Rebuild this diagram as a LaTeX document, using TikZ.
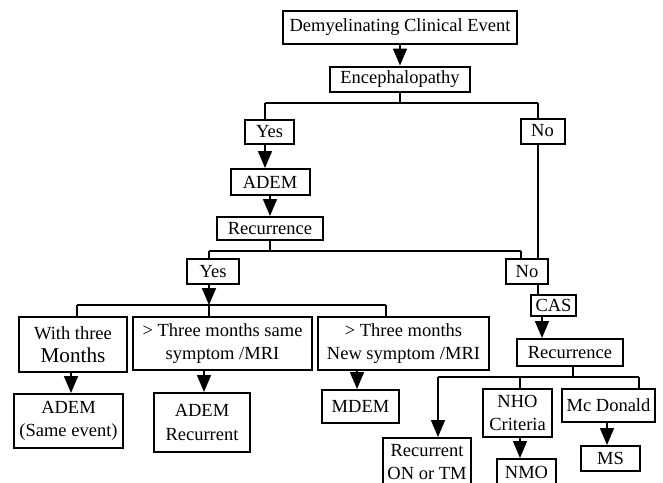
\documentclass[tikz,border=0pt]{standalone}
\usepackage{fontspec}
\setmainfont{Liberation Serif}
\usetikzlibrary{arrows.meta}

\tikzset{
  box/.style={draw, line width=1pt, inner sep=1pt, align=center,
    font=\fontsize{9.25pt}{11.75pt}\selectfont},
  link/.style={line width=0.8pt},
  arrow/.style={line width=0.8pt, -{Triangle[width=7pt,length=8.5pt]}}
}

\begin{document}
\begin{tikzpicture}[x=0.5pt, y=-0.5pt]
\useasboundingbox (0,0) rectangle (663,482);

\def\ya{103}
\def\yb{251}
\def\yc{305}
\def\yd{377}

\def\xa{265}
\def\xb{538}
\def\xc{209}
\def\xd{521}
\def\xe{77}
\def\xf{386}
\def\xg{71}
\def\xh{204}
\def\xj{357}
\def\xk{542}
\def\xl{573}
\def\xm{438}
\def\xn{520}
\def\xo{639}
\def\xp{607}

\node[box, minimum width=117pt, minimum height=16.5pt] (dce) at (400, 27.5) {Demyelinating Clinical Event};
\node[box, minimum width=70pt, minimum height=12.5pt] (enc) at (400, 79) {Encephalopathy};
\node[box, minimum width=24.5pt, minimum height=12pt] (yes1) at (269.5, 132) {Yes};
\node[box, minimum width=22pt, minimum height=12.5pt] (no1) at (542.5, 131) {No};
\node[box, minimum width=39.5pt, minimum height=13pt] (adem) at (270, 182) {ADEM};
\node[box, minimum width=53pt, minimum height=11.5pt] (rec1) at (270, 228.5) {Recurrence};
\node[box, minimum width=26pt, minimum height=12.5pt] (yes2) at (213, 271.5) {Yes};
\node[box, minimum width=21pt, minimum height=12.5pt] (no2) at (527, 271.5) {No};
\node[box, minimum width=22.5pt, minimum height=10.5pt, inner sep=0pt] (cas) at (553.5, 305.5) {CAS};
\node[box, minimum width=53pt, minimum height=13.5pt] (rec2) at (570, 352.5) {Recurrence};

\node[box, minimum width=54pt, minimum height=27.5pt] (b1) at (73, 344.5) {With three\\{\fontsize{10.6pt}{12.5pt}\selectfont Months}};
\node[box, minimum width=89.5pt, minimum height=26.5pt] (b2) at (222.5, 343.5) {> Three months same\\symptom /MRI};
\node[box, minimum width=85.5pt, minimum height=26.5pt] (b3) at (403.5, 343.5) {> Three months\\New symptom /MRI};

\node[box, minimum width=54.5pt, minimum height=27pt] (c1) at (68.5, 421) {ADEM\\(Same event)};
\node[box, minimum width=48pt, minimum height=29.5pt] (c2) at (202, 422.5) {ADEM\\Recurrent};
\node[box, minimum width=38.5pt, minimum height=16.5pt] (c3) at (360.5, 406.5) {MDEM};

\node[box, minimum width=44pt, minimum height=24pt] (r1) at (427, 462) {Recurrent\\ON or TM};
\node[box, minimum width=34.5pt, minimum height=24pt] (nho) at (517.5, 413) {NHO\\Criteria};
\node[box, minimum width=46.5pt, minimum height=16.5pt] (mcd) at (608.5, 405.5) {Mc Donald};
\node[box, minimum width=29.5pt, minimum height=13pt] (nmo) at (526.5, 472) {NMO};
\node[box, minimum width=29.5pt, minimum height=12.5pt] (ms) at (610.5, 458.5) {MS};

\coordinate (ja) at (400, \ya);
\coordinate (jal) at (\xa, \ya);
\coordinate (jar) at (\xb, \ya);
\coordinate (jb) at (270, \yb);
\coordinate (jbl) at (\xc, \yb);
\coordinate (jbr) at (\xd, \yb);
\coordinate (jc) at (\xc, \yc);
\coordinate (jcl) at (\xe, \yc);
\coordinate (jcr) at (\xf, \yc);
\coordinate (jd) at (\xl, \yd);
\coordinate (jdl) at (\xm, \yd);
\coordinate (jdm) at (\xn, \yd);
\coordinate (jdr) at (\xo, \yd);

\draw[arrow] (dce) -- (enc);
\draw[link] (enc) -- (ja);
\draw[link] (jal) -- (jar);
\draw[link] (jal) -- (jal |- yes1.north);
\draw[link] (jar) -- (jar |- no1.north);
\draw[arrow] (jal |- yes1.south) -- (jal |- adem.north);
\draw[link] (jar |- no1.south) -- (jar |- no2.north);
\draw[link] (jar |- no2.south) -- (jar |- cas.north);

\draw[arrow] (adem) -- (rec1);
\draw[link] (rec1) -- (jb);
\draw[link] (jbl) -- (jbr);
\draw[link] (jbl) -- (jbl |- yes2.north);
\draw[link] (jbr) -- (jbr |- no2.north);

\draw[arrow] (jc |- yes2.south) -- (jc);
\draw[link] (jcl) -- (jcr);
\draw[link] (jcl) -- (jcl |- b1.north);
\draw[link] (jc) -- (jc |- b2.north);
\draw[link] (jcr) -- (jcr |- b3.north);
\draw[arrow] (b1.south -| \xg,0) -- (c1.north -| \xg,0);
\draw[arrow] (b2.south -| \xh,0) -- (c2.north -| \xh,0);
\draw[arrow] (b3.south -| \xj,0) -- (c3.north -| \xj,0);

\draw[arrow] (cas.south -| \xk,0) -- (rec2.north -| \xk,0);
\draw[link] (rec2.south -| jd) -- (jd);
\draw[link] (jdl) -- (jdr);
\draw[arrow] (jdl) -- (jdl |- r1.north);
\draw[link] (jdm) -- (jdm |- nho.north);
\draw[link] (jdr) -- (jdr |- mcd.north);
\draw[arrow] (nho.south -| jdm) -- (nmo.north -| jdm);
\draw[arrow] (mcd.south -| \xp,0) -- (ms.north -| \xp,0);

\end{tikzpicture}
\end{document}
